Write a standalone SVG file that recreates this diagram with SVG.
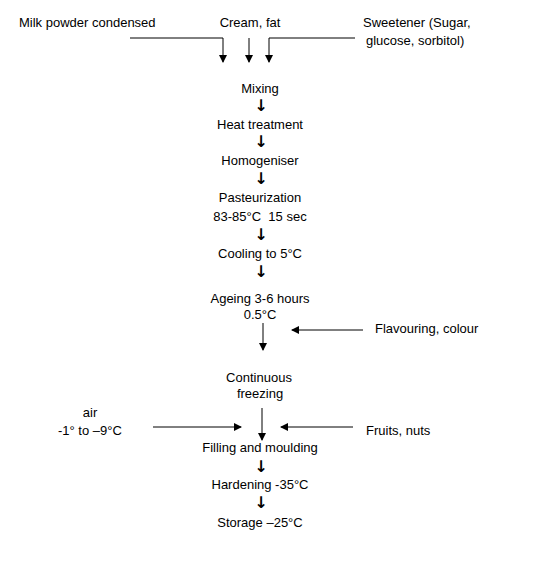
<svg xmlns="http://www.w3.org/2000/svg" width="540" height="561" viewBox="0 0 540 561">
<style>
text{font-family:"Liberation Sans",Arial,sans-serif;font-size:13px;fill:#000}
.c{text-anchor:middle}
.a{font-family:"DejaVu Sans",sans-serif;font-size:16px;font-weight:bold;text-anchor:middle}
.ln{stroke:#000;stroke-width:1;fill:none}
</style>
<defs>
<marker id="ah" markerWidth="8" markerHeight="8" refX="7" refY="4" orient="auto" markerUnits="userSpaceOnUse">
<path d="M0,0 L8,4 L0,8 Z" fill="#000"/>
</marker>
</defs>
<rect width="540" height="561" fill="#fff"/>
<g id="milk"><text x="19" y="27">Milk powder condensed</text></g>
<g id="cream"><text x="250" y="27" class="c">Cream, fat</text></g>
<g id="sweetener"><text x="363" y="27">Sweetener (Sugar,</text><text x="366" y="45">glucose, sorbitol)</text></g>
<g id="mixing"><text x="260" y="93" class="c">Mixing</text></g>
<g id="heat"><text x="260" y="129" class="c">Heat treatment</text></g>
<g id="homog"><text x="260" y="165" class="c">Homogeniser</text></g>
<g id="past"><text x="260" y="202" class="c">Pasteurization</text><text x="260" y="221" class="c" xml:space="preserve">83-85°C  15 sec</text></g>
<g id="cooling"><text x="260" y="258" class="c">Cooling to 5°C</text></g>
<g id="ageing"><text x="260" y="303" class="c">Ageing 3-6 hours</text><text x="260" y="319" class="c">0.5°C</text></g>
<g id="flav"><text x="375" y="333">Flavouring, colour</text></g>
<g id="freezing"><text x="259" y="382" class="c">Continuous</text><text x="260" y="398" class="c">freezing</text></g>
<g id="air"><text x="90" y="417" class="c">air</text><text x="58" y="435">-1° to –9°C</text></g>
<g id="fruits"><text x="366" y="435">Fruits, nuts</text></g>
<g id="filling"><text x="260" y="452" class="c">Filling and moulding</text></g>
<g id="hardening"><text x="260" y="489" class="c">Hardening -35°C</text></g>
<g id="storage"><text x="260" y="527" class="c">Storage –25°C</text></g>
<g id="connectors">
<path class="ln" d="M130,38 H223 V62" marker-end="url(#ah)"/>
<path class="ln" d="M249,38 V62" marker-end="url(#ah)"/>
<path class="ln" d="M355,38 H269 V62" marker-end="url(#ah)"/>
<text x="261" y="111" class="a">↓</text>
<text x="261" y="147" class="a">↓</text>
<text x="261" y="184" class="a">↓</text>
<text x="261" y="240" class="a">↓</text>
<text x="261" y="277" class="a">↓</text>
<path class="ln" d="M263,323 V350" marker-end="url(#ah)"/>
<path class="ln" d="M363,330 H292" marker-end="url(#ah)"/>
<path class="ln" d="M262,408 V440" marker-end="url(#ah)"/>
<path class="ln" d="M153,427 H241" marker-end="url(#ah)"/>
<path class="ln" d="M353,427 H281" marker-end="url(#ah)"/>
<text x="261" y="472" class="a">↓</text>
<text x="261" y="508" class="a">↓</text>
</g>
</svg>
